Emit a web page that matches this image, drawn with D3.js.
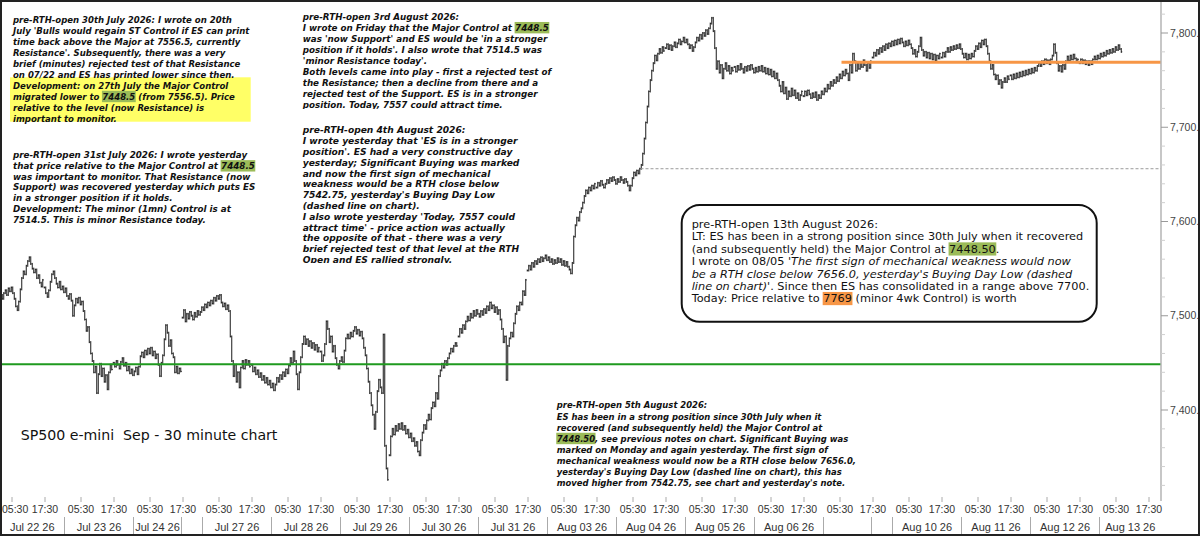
<!DOCTYPE html>
<html><head><meta charset="utf-8">
<script src="https://cdn.jsdelivr.net/npm/d3@7"></script>
<style>html,body{margin:0;padding:0;background:#fff;} svg{display:block;}</style>
</head><body>
<svg id="chart" width="1200" height="536"></svg>
<script>
// ---------- DATA ----------
const sessionDates = ["Jul 22 26","Jul 23 26","Jul 24 26","Jul 27 26","Jul 28 26","Jul 29 26","Jul 30 26","Jul 31 26",
  "Aug 03 26","Aug 04 26","Aug 05 26","Aug 06 26","Aug 07 26","Aug 10 26","Aug 11 26","Aug 12 26","Aug 13 26"];
const dateAxisLabels = ["Jul 22 26","Jul 23 26","Jul 24 26","Jul 27 26","Jul 28 26","Jul 29 26","Jul 30 26","Jul 31 26",
  "Aug 03 26","Aug 04 26","Aug 05 26","Aug 06 26","","Aug 10 26","Aug 11 26","Aug 12 26","Aug 13 26"];
const fridaySessions = ["Jul 24 26","Aug 07 26"];
const timeTickLabels = ["17:30","05:30"];
const barsPerSession = 46;
const firstBarOfJul22 = 16;

// 30-minute closes per session (session starts 17:00 CT the evening before)
const jul22 = [7525,7522,7518,7524,7527,7522,7529,7526,7530,7524,7518,7510,7506,7515,7528,7540,7547,7544,7553,7558,7562,7555,7550,7546,7549,7540,7543,7535,7531,7538];
const jul23 = [7530,7524,7520,7527,7536,7544,7547,7540,7534,7530,7536,7528,7531,7525,7529,7521,7518,7523,7516,7500,7511,7518,7514,7519,7512,7515,7505,7496,7484,7488,7472,7460,7452,7440,7446,7418,7438,7449,7436,7444,7430,7437,7422,7440,7448,7443];
const jul24 = [7450,7446,7452,7448,7444,7451,7455,7447,7450,7442,7446,7439,7443,7437,7441,7445,7438,7446,7457,7461,7456,7463,7459,7465,7460,7466,7458,7462,7455,7459,7448,7436,7450,7458,7475,7490,7482,7468,7474,7460,7456,7440,7446,7439,7444,7441];
const jul27 = [7498,7506,7494,7502,7497,7504,7500,7496,7503,7499,7505,7501,7504,7509,7506,7512,7509,7514,7511,7516,7513,7519,7516,7521,7518,7522,7514,7510,7513,7507,7511,7505,7478,7452,7436,7448,7430,7440,7424,7445,7452,7444,7453,7448,7452,7446];
const jul28 = [7448,7441,7445,7438,7442,7435,7439,7432,7436,7429,7434,7427,7431,7424,7428,7421,7427,7434,7430,7437,7433,7440,7436,7443,7439,7447,7455,7450,7462,7452,7438,7422,7440,7456,7470,7478,7470,7475,7468,7473,7466,7471,7464,7469,7462,7466];
const jul29 = [7462,7452,7458,7470,7494,7486,7472,7478,7462,7468,7455,7448,7444,7452,7456,7451,7463,7476,7480,7476,7482,7478,7484,7488,7481,7485,7479,7483,7476,7466,7458,7444,7430,7418,7405,7395,7380,7398,7420,7432,7424,7418,7480,7362,7338,7326];
const jul30 = [7352,7372,7380,7374,7383,7378,7385,7380,7386,7379,7383,7375,7379,7371,7375,7367,7370,7362,7366,7356,7352,7368,7376,7384,7380,7389,7395,7390,7402,7408,7404,7418,7412,7436,7442,7449,7445,7452,7448,7455,7460,7465,7462,7468,7471,7468];
const jul31 = [7478,7486,7482,7490,7486,7494,7499,7495,7502,7498,7505,7500,7506,7502,7499,7505,7501,7507,7503,7510,7506,7514,7508,7511,7504,7509,7502,7506,7496,7486,7472,7478,7432,7468,7476,7482,7478,7492,7502,7510,7506,7514,7512,7526,7522,7538];
const aug03 = [7548,7553,7549,7556,7552,7558,7555,7560,7557,7562,7558,7561,7564,7559,7562,7557,7560,7555,7559,7556,7561,7557,7560,7554,7558,7553,7557,7552,7549,7545,7556,7584,7596,7604,7601,7610,7614,7620,7627,7633,7630,7636,7633,7638,7635,7640];
const aug04 = [7636,7641,7638,7643,7639,7636,7640,7644,7641,7646,7643,7647,7644,7640,7645,7642,7647,7644,7641,7645,7642,7638,7633,7638,7646,7652,7649,7654,7651,7656,7660,7672,7688,7705,7722,7738,7750,7760,7768,7776,7771,7778,7783,7779,7785,7781];
const aug05 = [7784,7788,7783,7787,7782,7786,7790,7785,7789,7793,7788,7791,7795,7790,7793,7788,7784,7787,7781,7785,7790,7795,7792,7798,7794,7800,7797,7803,7799,7805,7810,7816,7802,7784,7762,7770,7758,7766,7752,7762,7768,7760,7765,7757,7763,7760];
const aug06 = [7764,7759,7765,7761,7767,7762,7758,7764,7760,7765,7761,7766,7762,7758,7763,7759,7764,7760,7765,7759,7763,7757,7762,7756,7761,7754,7759,7752,7757,7750,7744,7738,7748,7736,7742,7730,7738,7733,7741,7734,7739,7731,7736,7729,7734,7738];
const aug07 = [7733,7738,7734,7739,7735,7731,7736,7732,7737,7729,7734,7731,7738,7735,7741,7738,7745,7741,7748,7744,7750,7747,7753,7749,7756,7752,7759,7755,7761,7757,7750,7766,7758,7778,7770,7760,7768,7762,7769,7764,7771,7766,7760,7768,7763,7770];
const aug10 = [7774,7779,7776,7782,7778,7784,7780,7786,7782,7788,7784,7789,7786,7791,7787,7792,7788,7793,7789,7794,7790,7786,7791,7787,7792,7788,7784,7778,7782,7775,7780,7786,7795,7782,7776,7780,7774,7779,7773,7778,7772,7777,7771,7776,7773,7778];
const aug11 = [7774,7779,7775,7780,7784,7780,7785,7782,7786,7783,7787,7784,7788,7783,7778,7774,7778,7772,7777,7773,7778,7775,7781,7786,7783,7789,7785,7792,7788,7793,7786,7778,7770,7762,7766,7756,7751,7755,7746,7750,7742,7748,7752,7748,7754,7751];
const aug12 = [7755,7751,7756,7752,7757,7753,7758,7754,7759,7755,7760,7756,7761,7757,7762,7758,7763,7760,7765,7768,7765,7770,7767,7772,7768,7771,7767,7772,7776,7788,7779,7768,7760,7765,7759,7766,7762,7770,7775,7771,7776,7772,7777,7773,7769,7772];
const aug13 = [7768,7772,7768,7771,7767,7770,7766,7770,7767,7772,7775,7772,7776,7773,7778,7775,7779,7776,7781,7778,7782,7779,7783,7780,7785,7782,7787,7783,7780];
const sessionCloses = [jul22,jul23,jul24,jul27,jul28,jul29,jul30,jul31,aug03,aug04,aug05,aug06,aug07,aug10,aug11,aug12,aug13];

// horizontal levels: Major Control, minor 4wk Control, Buying Day Low
const levelPrices = [7448.5, 7769, 7656];
const levelStartBars = [17, 12*46+26, 9*46+30];

const yMajorTicks = [7400, 7500, 7600, 7700, 7800];
const yMinorTicks = [7320,7340,7360,7380,7420,7440,7460,7480,7520,7540,7560,7580,7620,7640,7660,7680,7720,7740,7760,7780,7820];

const chartTitle = "SP500 e-mini  Sep - 30 minute chart";
const noteJul30 = [
  "pre-RTH-open 30th July 2026: I wrote on 20th",
  "July 'Bulls would regain ST Control if ES can print",
  "time back above the Major at 7556.5, currently",
  "Resistance'. Subsequently, there was a very",
  "brief (minutes) rejected test of that Resistance",
  "on 07/22 and ES has printed lower since then.",
  "Development: on 27th July the Major Control",
  "migrated lower to [7448.5] (from 7556.5). Price",
  "relative to the level (now Resistance) is",
  "important to monitor."
];
const noteJul31 = [
  "pre-RTH-open 31st July 2026: I wrote yesterday",
  "that price relative to the Major Control at [7448.5]",
  "was important to monitor. That Resistance (now",
  "Support) was recovered yesterday which puts ES",
  "in a stronger position if it holds.",
  "Development: The minor (1mn) Control is at",
  "7514.5. This is minor Resistance today."
];
const noteAug03 = [
  "pre-RTH-open 3rd August 2026:",
  "I wrote on Friday that the Major Control at [7448.5]",
  "was 'now Support' and ES would be 'in a stronger",
  "position if it holds'. I also wrote that 7514.5 was",
  "'minor Resistance today'.",
  "Both levels came into play - first a rejected test of",
  "the Resistance; then a decline from there and a",
  "rejected test of the Support. ES is in a stronger",
  "position. Today, 7557 could attract time."
];
const noteAug04 = [
  "pre-RTH-open 4th August 2026:",
  "I wrote yesterday that 'ES is in a stronger",
  "position'. ES had a very constructive day",
  "yesterday; Significant Buying was marked",
  "and now the first sign of mechanical",
  "weakness would be a RTH close below",
  "7542.75, yesterday's Buying Day Low",
  "(dashed line on chart).",
  "I also wrote yesterday 'Today, 7557 could",
  "attract time' - price action was actually",
  "the opposite of that - there was a very",
  "brief rejected test of that level at the RTH",
  "Open and ES rallied strongly."
];
const noteAug05 = [
  "pre-RTH-open 5th August 2026:",
  "ES has been in a strong position since 30th July when it",
  "recovered (and subsequently held) the Major Control at",
  "[7448.50], see previous notes on chart. Significant Buying was",
  "marked on Monday and again yesterday. The first sign of",
  "mechanical weakness would now be a RTH close below 7656.0,",
  "yesterday's Buying Day Low (dashed line on chart), this has",
  "moved higher from 7542.75, see chart and yesterday's note."
];
const noteAug13 = [
  "pre-RTH-open 13th August 2026:",
  "LT: ES has been in a strong position since 30th July when it recovered",
  "(and subsequently held) the Major Control at [7448.50].",
  "I wrote on 08/05 '_The first sign of mechanical weakness would now_",
  "_be a RTH close below 7656.0, yesterday's Buying Day Low (dashed_",
  "_line on chart)_'. Since then ES has consolidated in a range above 7700.",
  "Today: Price relative to {7769} (minor 4wk Control) is worth"
];

// ---------- DRAW ----------
const W = 1200, H = 536, plotRight = 1161, plotBottom = 501;
const svg = d3.select("#chart");
svg.append("rect").attr("width", W).attr("height", H).attr("fill", "#fff");

const x = d3.scaleLinear().domain([17, 17 + plotRight / 1.5]).range([0, plotRight]);
const y = d3.scaleLinear().domain([7300, 7800]).range([504.25, 33]);

const SANS = "'DejaVu Sans', Verdana, sans-serif";
const ARIAL = "'Liberation Sans', Arial, sans-serif";

// yellow note background
svg.append("rect").attr("x", 10).attr("y", 77.3).attr("width", 240.7).attr("height", 44.4).attr("fill", "#ffff66");

function parseSegments(line) {
  return line.split(/(\[[^\]]*\]|\{[^}]*\}|_[^_]*_)/).filter(s => s.length).map(p => {
    if (p[0] === "[") return {t: p.slice(1, -1), hl: "#9bbb59"};
    if (p[0] === "{") return {t: p.slice(1, -1), hl: "#f79646"};
    if (p[0] === "_" && p.length > 1 && p.endsWith("_")) return {t: p.slice(1, -1), it: true};
    return {t: p};
  });
}

let clipId = 0;
function drawNote(cfg) {
  const outer = svg.append("g");
  if (cfg.clipBottom) {
    const id = "clip" + (clipId++);
    svg.append("clipPath").attr("id", id).append("rect")
      .attr("x", 0).attr("y", 0).attr("width", W).attr("height", cfg.clipBottom);
    outer.attr("clip-path", `url(#${id})`);
  }
  const g = outer.append("g");
  const texts = [];
  cfg.lines.forEach((line, i) => {
    const segs = parseSegments(line);
    const by = cfg.y + i * cfg.lh;
    const t = g.append("text").attr("x", 0).attr("y", by)
      .attr("font-family", SANS).attr("font-size", cfg.fs)
      .attr("font-weight", cfg.bold ? "bold" : "normal")
      .attr("font-style", cfg.italic ? "italic" : "normal")
      .attr("fill", "#111").style("white-space", "pre");
    segs.forEach(s => {
      const ts = t.append("tspan").text(s.t);
      if (s.it) ts.attr("font-style", "italic");
    });
    texts.push({node: t.node(), segs, by});
  });
  const refLen = texts[cfg.refLine].node.getComputedTextLength();
  const sx = cfg.refWidth / refLen;
  g.attr("transform", `translate(${cfg.x},0) scale(${sx},1)`);
  texts.forEach(tt => {
    let idx = 0;
    tt.segs.forEach(s => {
      if (s.hl) {
        const start = idx ? tt.node.getSubStringLength(0, idx) : 0;
        const w = tt.node.getSubStringLength(idx, s.t.length);
        g.insert("rect", ":first-child").attr("x", start - 0.5).attr("y", tt.by - cfg.fs * 0.95)
          .attr("width", w + 1).attr("height", cfg.fs * 1.2).attr("fill", s.hl);
      }
      idx += s.t.length;
    });
  });
}

drawNote({lines: noteJul30, x: 13, y: 23.5, lh: 10.9, fs: 9.5, bold: true, italic: true, refLine: 1, refWidth: 237});
drawNote({lines: noteJul31, x: 13, y: 158.5, lh: 10.67, fs: 9.5, bold: true, italic: true, refLine: 1, refWidth: 242});
drawNote({lines: noteAug03, x: 302.7, y: 20, lh: 11, fs: 9.5, bold: true, italic: true, refLine: 5, refWidth: 249, clipBottom: 109});
drawNote({lines: noteAug04, x: 302.7, y: 133.5, lh: 10.8, fs: 9.5, bold: true, italic: true, refLine: 11, refWidth: 217, clipBottom: 263});
drawNote({lines: noteAug05, x: 556.7, y: 408.5, lh: 11.1, fs: 9.5, bold: true, italic: true, refLine: 5, refWidth: 300});

// title
const title = svg.append("text").attr("x", 0).attr("y", 440).attr("font-family", SANS)
  .attr("font-size", 14).attr("fill", "#111").style("white-space", "pre").text(chartTitle);
const tl = title.node().getComputedTextLength();
title.attr("transform", `translate(20.7,0) scale(${257 / tl},1)`);

// ---------- price bars ----------
const bars = [];
sessionCloses.forEach((vals, d) => {
  const k0 = d === 0 ? firstBarOfJul22 : 0;
  vals.forEach((c, j) => {
    bars.push({g: d * barsPerSession + k0 + j, open: j ? vals[j - 1] : c, close: c});
  });
});

svg.append("clipPath").attr("id", "plotclip").append("rect")
  .attr("x", 0).attr("y", 0).attr("width", plotRight).attr("height", plotBottom);
const plot = svg.append("g").attr("clip-path", "url(#plotclip)");

let p = "";
bars.forEach(b => {
  const xc = x(b.g + 0.5);
  const yo = y(b.open), yc = y(b.close);
  const top = Math.min(yo, yc) - 1, bot = Math.max(yo, yc) + 1;
  p += `M${xc.toFixed(2)},${top.toFixed(2)}V${bot.toFixed(2)}`;
  p += `M${xc.toFixed(2)},${yc.toFixed(2)}H${(xc + 1).toFixed(2)}`;
});
plot.append("path").attr("d", p).attr("fill", "none").attr("stroke", "#1a1a1a").attr("stroke-width", 1);

// levels
const levelStyles = [
  {stroke: "#1f9a1f", width: 2, dash: null},
  {stroke: "#f79646", width: 3, dash: null},
  {stroke: "#9a9a9a", width: 1, dash: "3,2"}
];
levelPrices.forEach((lp, i) => {
  const st = levelStyles[i];
  plot.append("line").attr("x1", x(levelStartBars[i])).attr("x2", plotRight)
    .attr("y1", y(lp)).attr("y2", y(lp))
    .attr("stroke", st.stroke).attr("stroke-width", st.width)
    .attr("stroke-dasharray", st.dash);
});

// ---------- y axis ----------
const ya = svg.append("g");
ya.append("line").attr("x1", plotRight).attr("x2", plotRight).attr("y1", 0).attr("y2", plotBottom)
  .attr("stroke", "#b4b4b4").attr("stroke-width", 1.5);
yMinorTicks.forEach(v => {
  if (y(v) < 2 || y(v) > plotBottom) return;
  ya.append("line").attr("x1", plotRight).attr("x2", plotRight + 4).attr("y1", y(v)).attr("y2", y(v))
    .attr("stroke", "#cfcfcf");
});
// labels as shown at the chart's right edge (truncated price format)
const fmt = v => d3.format(",")(v) + ".";
yMajorTicks.forEach(v => {
  ya.append("line").attr("x1", plotRight).attr("x2", plotRight + 7).attr("y1", y(v)).attr("y2", y(v))
    .attr("stroke", "#999");
  ya.append("text").attr("x", plotRight + 9).attr("y", y(v)).attr("dy", "0.35em")
    .attr("font-family", ARIAL).attr("font-size", 10.5).attr("fill", "#444").text(fmt(v));
});

// ---------- x axis ----------
const xa = svg.append("g");
for (let d = 0; d <= sessionDates.length; d++) {
  [[1, timeTickLabels[0]], [25, timeTickLabels[1]]].forEach(([k, lab]) => {
    if (d === sessionDates.length && k === 25) return;
    const xt = x(d * barsPerSession + k);
    if (xt < 0 || xt > plotRight + 1) return;
    xa.append("line").attr("x1", xt).attr("x2", xt).attr("y1", 497).attr("y2", 502).attr("stroke", "#aaa");
    const t = xa.append("text").attr("x", xt).attr("y", 513).attr("text-anchor", "middle")
      .attr("font-family", ARIAL).attr("font-size", 10.5).attr("fill", "#333").text(lab);
    const half = t.node().getComputedTextLength() / 2;
    if (xt - half < 2) t.attr("x", 2 + half);
  });
}
sessionDates.forEach((dt, d) => {
  const start = d * barsPerSession + 14;
  const end = fridaySessions.includes(dt) ? (d + 1) * barsPerSession : (d + 1) * barsPerSession + 14;
  const xs = Math.max(0, x(start)), xe = Math.min(plotRight, x(end));
  const bounds = [x(start)];
  if (fridaySessions.includes(dt)) bounds.push(x(end));
  bounds.forEach(bx => {
    if (bx > 2 && bx < plotRight) xa.append("line").attr("x1", bx).attr("x2", bx)
      .attr("y1", 517).attr("y2", 536).attr("stroke", "#aaa");
  });
  xa.append("text").attr("x", (xs + xe) / 2).attr("y", 531).attr("text-anchor", "middle")
    .attr("font-family", ARIAL).attr("font-size", 11).attr("fill", "#333").text(dateAxisLabels[d]);
});

// ---------- boxed note ----------
svg.append("rect").attr("x", 681.7).attr("y", 205).attr("width", 415).attr("height", 116.7)
  .attr("rx", 18).attr("ry", 18).attr("fill", "#fff").attr("stroke", "#111").attr("stroke-width", 2);
drawNote({lines: noteAug13, x: 691.7, y: 228, lh: 12.4, fs: 11, bold: false, italic: false, refLine: 1, refWidth: 392});

// frame
svg.append("rect").attr("x", 1).attr("y", 1).attr("width", W - 2).attr("height", H - 2)
  .attr("fill", "none").attr("stroke", "#222").attr("stroke-width", 2);
</script>
</body></html>
